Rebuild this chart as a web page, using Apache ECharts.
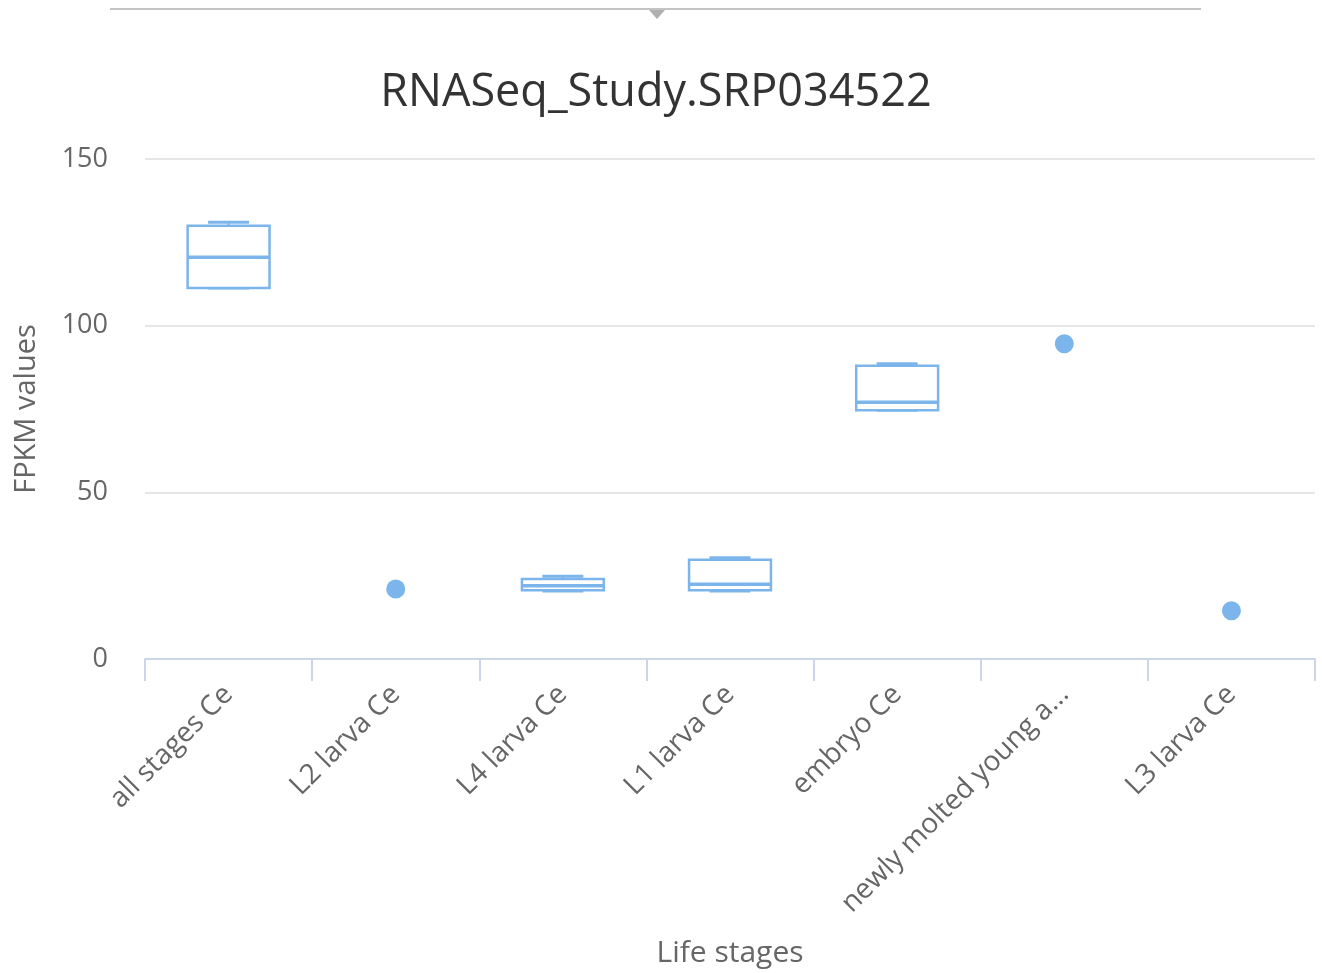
<!DOCTYPE html>
<html>
<head>
<meta charset="utf-8">
<style>html,body{margin:0;padding:0;background:#fff;}#chart{width:1322px;height:973px;}</style>
<script src="https://cdn.jsdelivr.net/npm/echarts@6/dist/echarts.min.js"></script>
</head>
<body>
<div id="chart"></div>
<script>
const categories = ["all stages Ce", "L2 larva Ce", "L4 larva Ce", "L1 larva Ce", "embryo Ce", "newly molted young a...", "L3 larva Ce"];
// box plots: [categoryIndex, low, q1, median, q3, high]
const boxData = [
  [0, 111.3, 111.3, 120.5, 130, 131],
  [2, 20.4, 20.6, 22, 24, 24.8],
  [3, 20.4, 20.6, 22.4, 29.8, 30.4],
  [4, 74.6, 74.6, 77, 88, 88.6]
];
// single observations: [categoryIndex, value]
const pointData = [
  [1, 21],
  [5, 94.6],
  [6, 14.5]
];
const yTicks = { min: 0, max: 150, interval: 50 };

const color = '#7cb5ec';
const chart = echarts.init(document.getElementById('chart'), null, { renderer: 'canvas' });
const font = '"Open Sans", "DejaVu Sans", sans-serif';

function renderBox(params, api) {
  const x = api.value(0);
  const low = api.coord([x, api.value(1)]);
  const q1 = api.coord([x, api.value(2)]);
  const med = api.coord([x, api.value(3)]);
  const q3 = api.coord([x, api.value(4)]);
  const high = api.coord([x, api.value(5)]);
  const bw = api.size([1, 0])[0] * 0.49;
  const ww = bw * 0.5;
  const cx = low[0];
  const st = { stroke: color, lineWidth: 2, fill: null };
  return {
    type: 'group',
    children: [
      { type: 'line', shape: { x1: cx, y1: high[1], x2: cx, y2: q3[1] }, style: st },
      { type: 'line', shape: { x1: cx, y1: q1[1], x2: cx, y2: low[1] }, style: st },
      { type: 'line', shape: { x1: cx - ww / 2, y1: high[1], x2: cx + ww / 2, y2: high[1] }, style: { stroke: color, lineWidth: 3 } },
      { type: 'line', shape: { x1: cx - ww / 2, y1: low[1], x2: cx + ww / 2, y2: low[1] }, style: { stroke: color, lineWidth: 3 } },
      { type: 'rect', shape: { x: cx - bw / 2, y: q3[1], width: bw, height: q1[1] - q3[1] }, style: { stroke: color, lineWidth: 2.5, fill: '#ffffff' } },
      { type: 'line', shape: { x1: cx - bw / 2, y1: med[1], x2: cx + bw / 2, y2: med[1] }, style: { stroke: color, lineWidth: 3.5 } }
    ]
  };
}

chart.setOption({
  animation: false,
  title: {
    text: 'RNASeq_Study.SRP034522',
    left: 651, top: 66, textAlign: 'center',
    textStyle: { fontFamily: font, fontSize: 45, fontWeight: 'normal', color: '#333333' }
  },
  graphic: [
    { type: 'line', shape: { x1: 110, y1: 9, x2: 1201, y2: 9 }, style: { stroke: '#c4c4c4', lineWidth: 2 } },
    { type: 'polygon', shape: { points: [[649, 10], [665, 10], [657, 19]] }, style: { fill: '#b0b0b0' } }
  ],
  grid: { left: 145, right: 7, top: 159, bottom: 312 },
  xAxis: {
    type: 'category',
    data: categories,
    boundaryGap: true,
    name: 'Life stages',
    nameLocation: 'middle',
    nameGap: 279,
    nameTextStyle: { fontFamily: font, fontSize: 30, color: '#666666' },
    axisLine: { lineStyle: { color: '#ccd6eb', width: 2 } },
    axisTick: { show: true, length: 22, lineStyle: { color: '#ccd6eb', width: 2 } },
    axisLabel: { rotate: 45, margin: 31, fontFamily: font, fontSize: 28, color: '#666666', interval: 0 },
    splitLine: { show: false }
  },
  yAxis: {
    type: 'value',
    min: yTicks.min, max: yTicks.max, interval: yTicks.interval,
    name: 'FPKM values',
    nameLocation: 'middle',
    nameGap: 104,
    nameTextStyle: { fontFamily: font, fontSize: 29, color: '#666666' },
    axisLine: { show: false },
    axisTick: { show: false },
    axisLabel: { margin: 37, fontFamily: font, fontSize: 27, color: '#666666' },
    splitLine: { lineStyle: { color: '#e6e6e6', width: 2 } }
  },
  series: [
    {
      type: 'custom',
      renderItem: renderBox,
      data: boxData,
      encode: { x: 0, y: [1, 2, 3, 4, 5] },
      z: 3
    },
    {
      type: 'scatter',
      data: pointData,
      symbolSize: 19,
      itemStyle: { color: color, opacity: 1 },
      z: 4
    }
  ]
});
</script>
</body>
</html>
